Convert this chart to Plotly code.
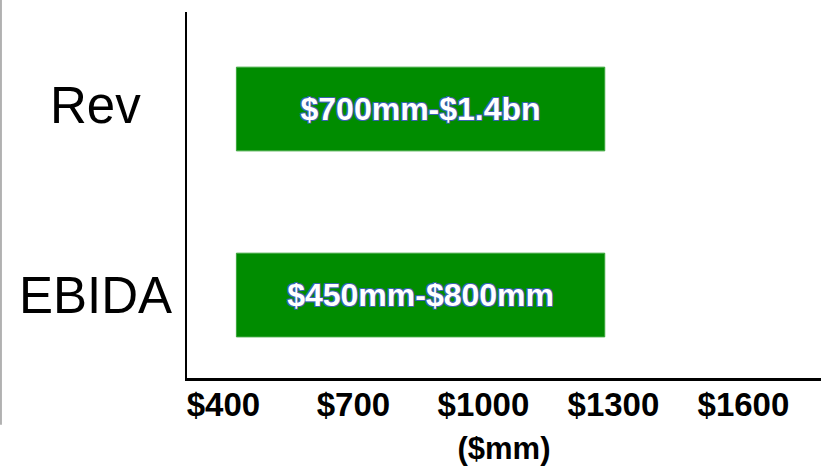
import plotly.graph_objects as go

# ranges shown as bars ($mm); both bars drawn the same length in the source
categories = ["EBIDA", "Rev"]
range_low = [430, 430]
range_high = [1280, 1280]
bar_labels = ["$450mm-$800mm", "$700mm-$1.4bn"]
tick_values = [400, 700, 1000, 1300, 1600]
tick_labels = ["$400", "$700", "$1000", "$1300", "$1600"]

FONT = "Liberation Sans, Arial, sans-serif"
GREEN = "#008C00"
OUTLINE = "#3A63B0"

lengths = [hi - lo for lo, hi in zip(range_low, range_high)]

fig = go.Figure(
    go.Bar(
        y=categories,
        x=lengths,
        base=range_low,
        orientation="h",
        width=0.45,
        text=bar_labels,
        textposition="inside",
        insidetextanchor="middle",
        textangle=0,
        textfont={
            "family": FONT,
            "size": 32,
            "color": "white",
            "weight": "bold",
            "shadow": (
                f"-1px -1px 0 {OUTLINE}, 1px -1px 0 {OUTLINE}, "
                f"-1px 1px 0 {OUTLINE}, 1px 1px 0 {OUTLINE}"
            ),
        },
        marker={"color": GREEN, "line": {"color": "#3AA63A", "width": 1}},
        hoverinfo="skip",
        showlegend=False,
    )
)

fig.update_xaxes(
    range=[316, 1779],
    tickvals=tick_values,
    ticktext=tick_labels,
    tickfont={"family": FONT, "size": 33, "color": "black", "weight": "bold"},
    ticks="",
    ticklabelstandoff=-5,
    showgrid=False,
    zeroline=False,
    showline=True,
    linecolor="black",
    linewidth=3,
    title={
        "text": "($mm)",
        "font": {"family": FONT, "size": 31, "color": "black", "weight": "bold"},
        "standoff": 16,
    },
)
fig.update_yaxes(
    categoryorder="array",
    categoryarray=categories,
    range=[-0.446, 1.5215],
    showticklabels=False,
    ticks="",
    showgrid=False,
    zeroline=False,
    showline=True,
    linecolor="black",
    linewidth=2,
)

# category names sit centred in the left margin, not right-aligned
for cat in categories:
    fig.add_annotation(
        x=-0.145,
        xref="paper",
        y=cat,
        yref="y",
        text=cat,
        showarrow=False,
        xanchor="center",
        yanchor="middle",
        yshift=4 if cat == "Rev" else 0,
        font={"family": FONT, "size": 51, "color": "black"},
    )

# thin grey frame edge on the far left of the source image
fig.add_shape(
    type="line",
    xref="paper",
    yref="paper",
    x0=-0.2934,
    x1=-0.2934,
    y0=1.033,
    y1=-0.128,
    line={"color": "#9A9A9A", "width": 1.5},
)

fig.update_layout(
    width=821,
    height=468,
    margin={"l": 187, "r": 0, "t": 12, "b": 90, "autoexpand": False},
    paper_bgcolor="white",
    plot_bgcolor="white",
    font={"family": FONT},
)

fig.write_html(
    "out.html",
    config={"displayModeBar": False},
    post_script="document.body.style.margin = '0';",
)
